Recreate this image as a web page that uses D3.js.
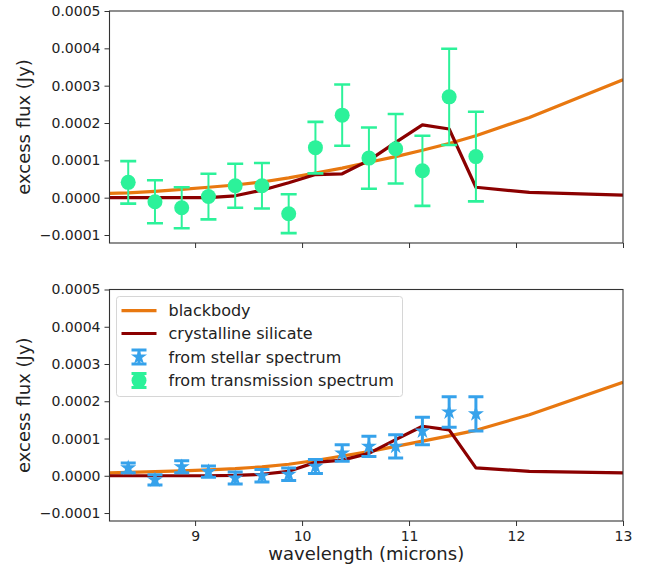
<!DOCTYPE html>
<html><head><meta charset="utf-8">
<script src="https://cdn.jsdelivr.net/npm/d3@7"></script>
<style>body{margin:0;background:#fff}svg{display:block}text{font-family:"DejaVu Sans",sans-serif}</style>
</head><body><svg id="c" width="651" height="565"></svg>
<script>
// ---- data (flux in units of 1e-4 Jy) ----
const wavelength = [8.375, 8.625, 8.875, 9.125, 9.375, 9.625, 9.875, 10.125, 10.375, 10.625, 10.875, 11.125, 11.375, 11.625];
const transFlux = [0.41, -0.11, -0.27, 0.03, 0.32, 0.32, -0.43, 1.34, 2.21, 1.06, 1.31, 0.72, 2.70, 1.10];
const transErr  = [0.57, 0.575, 0.55, 0.61, 0.59, 0.61, 0.52, 0.69, 0.82, 0.82, 0.93, 0.94, 1.29, 1.20];
const stellarFlux = [0.21, -0.11, 0.24, 0.11, -0.06, 0.0, 0.04, 0.25, 0.61, 0.79, 0.79, 1.20, 1.71, 1.66];
const stellarErr  = [0.13, 0.14, 0.16, 0.15, 0.16, 0.17, 0.17, 0.19, 0.22, 0.27, 0.31, 0.37, 0.41, 0.46];
const modelWavelength = [8.125, 8.375, 8.625, 8.875, 9.125, 9.375, 9.625, 9.875, 10.125, 10.375, 10.625, 10.875, 11.125, 11.375, 11.625, 12.125, 13.0];
const blackbodyTop = [0.11, 0.13, 0.17, 0.22, 0.28, 0.34, 0.42, 0.53, 0.66, 0.79, 0.95, 1.10, 1.27, 1.45, 1.66, 2.15, 3.16];
const silicateTop  = [0, 0, 0, 0, 0, 0.05, 0.20, 0.40, 0.62, 0.64, 1.00, 1.48, 1.95, 1.84, 0.28, 0.14, 0.07];
const blackbodyBottom = [0.07, 0.09, 0.11, 0.13, 0.16, 0.19, 0.24, 0.31, 0.41, 0.53, 0.65, 0.79, 0.93, 1.07, 1.22, 1.64, 2.51];
const silicateBottom  = [0, 0, 0, 0, 0, 0.01, 0.04, 0.12, 0.36, 0.42, 0.60, 0.97, 1.33, 1.23, 0.21, 0.12, 0.08];
const xTicks = [9, 10, 11, 12, 13];
const yTicks = [-0.0001, 0, 0.0001, 0.0002, 0.0003, 0.0004, 0.0005];
const legendLabels = ["blackbody", "crystalline silicate", "from stellar spectrum", "from transmission spectrum"];

const C_ORANGE = "#e87810", C_RED = "#8b0000", C_GREEN = "#2cf29a", C_BLUE = "#36a2eb";
const STAR = 80;
const svg = d3.select("#c");
const L = 109.5, R = 623;
const x = d3.scaleLinear().domain([8.2, 13]).range([L, R]);

function panel(top, bottom, opts, id) {
  const y = d3.scaleLinear().domain([-0.0001214, 0.0005]).range([bottom, top]);
  const g = svg.append("g");
  g.append("clipPath").attr("id", id).append("rect")
    .attr("x", L).attr("y", top).attr("width", R - L).attr("height", bottom - top);
  const pg = g.append("g").attr("clip-path", `url(#${id})`);
  const line = d3.line().x(d => x(d[0])).y(d => y(d[1] * 1e-4));
  pg.append("path").datum(modelWavelength.map((w, i) => [w, opts.bb[i]]))
    .attr("d", line).attr("fill", "none").attr("stroke", C_ORANGE).attr("stroke-width", 3.2).attr("stroke-linejoin", "round");
  pg.append("path").datum(modelWavelength.map((w, i) => [w, opts.si[i]]))
    .attr("d", line).attr("fill", "none").attr("stroke", C_RED).attr("stroke-width", 3.2).attr("stroke-linejoin", "round");
  // error bars
  const eg = pg.append("g");
  wavelength.forEach((w, i) => {
    const cx = x(w), v = opts.flux[i] * 1e-4, e = opts.err[i] * 1e-4;
    const y1 = y(v + e), y2 = y(v - e);
    eg.append("line").attr("x1", cx).attr("x2", cx).attr("y1", y1).attr("y2", y2)
      .attr("stroke", opts.color).attr("stroke-width", opts.elw);
    [y1, y2].forEach(yy => eg.append("line").attr("x1", cx - opts.cap).attr("x2", cx + opts.cap)
      .attr("y1", yy).attr("y2", yy).attr("stroke", opts.color).attr("stroke-width", opts.ct));
    if (opts.star) {
      eg.append("path").attr("d", d3.symbol(d3.symbolStar, STAR)()).attr("transform", `translate(${cx},${y(v)})`).attr("fill", opts.color);
    } else {
      eg.append("circle").attr("cx", cx).attr("cy", y(v)).attr("r", 7.5).attr("fill", opts.color);
    }
  });
  // axes
  const ya = g.append("g").attr("transform", `translate(${L},0)`)
    .call(d3.axisLeft(y).tickValues(yTicks).tickSize(5).tickPadding(4)
      .tickFormat(d => (d < 0 ? "\u2212" : "") + Math.abs(d).toFixed(4)));
  const xa = g.append("g").attr("transform", `translate(0,${bottom})`)
    .call(d3.axisBottom(x).tickValues(xTicks).tickSize(5).tickPadding(5).tickFormat(opts.xlabels ? d3.format("d") : ""));
  [ya, xa].forEach(a => {
    a.select(".domain").remove();
    a.selectAll("line").attr("stroke", "#333").attr("stroke-width", 1);
    a.selectAll("text").attr("font-size", 14).attr("fill", "#222").attr("font-family", "DejaVu Sans");
  });
  g.append("rect").attr("x", L).attr("y", top).attr("width", R - L).attr("height", bottom - top)
    .attr("fill", "none").attr("stroke", "#333").attr("stroke-width", 1.1);
  g.append("text").attr("transform", `translate(24,${(top + bottom) / 2}) rotate(-90)`)
    .attr("text-anchor", "middle").attr("dy", "0.35em").attr("font-size", 18).attr("fill", "#222")
    .text("excess flux (Jy)");
  return y;
}

panel(11, 243, {bb: blackbodyTop, si: silicateTop, flux: transFlux, err: transErr, color: C_GREEN,
  elw: 2, ct: 2.6, cap: 8, star: false, xlabels: false}, "clipTop");
panel(289.5, 521, {bb: blackbodyBottom, si: silicateBottom, flux: stellarFlux, err: stellarErr, color: C_BLUE,
  elw: 3, ct: 3, cap: 7.5, star: true, xlabels: true}, "clipBot");

svg.append("text").attr("x", (L + R) / 2).attr("y", 560).attr("text-anchor", "middle")
  .attr("font-size", 18).attr("fill", "#222").text("wavelength (microns)");

// legend
const lg = svg.append("g");
lg.append("rect").attr("x", 116.5).attr("y", 296.5).attr("width", 286).attr("height", 100).attr("rx", 3)
  .attr("fill", "#fff").attr("fill-opacity", 0.8).attr("stroke", "#d6d6d6").attr("stroke-width", 1);
const rowY = [310.7, 333.5, 357, 380.5];
const hx = 139;
lg.append("line").attr("x1", 121.5).attr("x2", 156.5).attr("y1", rowY[0]).attr("y2", rowY[0]).attr("stroke", C_ORANGE).attr("stroke-width", 3.2);
lg.append("line").attr("x1", 121.5).attr("x2", 156.5).attr("y1", rowY[1]).attr("y2", rowY[1]).attr("stroke", C_RED).attr("stroke-width", 3.2);
[[rowY[2], C_BLUE, true], [rowY[3], C_GREEN, false]].forEach(([yy, col, star]) => {
  lg.append("line").attr("x1", hx).attr("x2", hx).attr("y1", yy - 7).attr("y2", yy + 7).attr("stroke", col).attr("stroke-width", star ? 3 : 2);
  [yy - 7, yy + 7].forEach(cy => lg.append("line").attr("x1", hx - 7.5).attr("x2", hx + 7.5).attr("y1", cy).attr("y2", cy).attr("stroke", col).attr("stroke-width", 3));
  if (star) lg.append("path").attr("d", d3.symbol(d3.symbolStar, STAR)()).attr("transform", `translate(${hx},${yy})`).attr("fill", col);
  else lg.append("circle").attr("cx", hx).attr("cy", yy).attr("r", 7.5).attr("fill", col);
});
legendLabels.forEach((t, i) => lg.append("text").attr("x", 168.5).attr("y", rowY[i]).attr("dy", "0.35em")
  .attr("font-size", 16).attr("fill", "#222").text(t));
</script></body></html>
